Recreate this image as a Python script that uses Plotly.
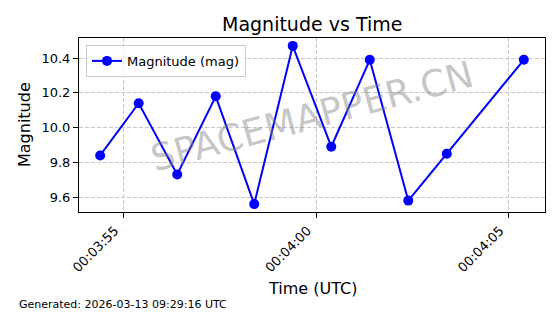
import plotly.graph_objects as go
from datetime import datetime, timedelta

base = datetime(2026, 3, 13, 0, 3, 54, 385000)
offsets_s = [0, 1, 2, 3, 4, 5, 6, 7, 8, 9, 11]
times = [base + timedelta(seconds=s) for s in offsets_s]
magnitudes = [9.84, 10.14, 9.73, 10.18, 9.56, 10.47, 9.89, 10.39, 9.58, 9.85, 10.39]
tick_times = [datetime(2026, 3, 13, 0, 3, 55), datetime(2026, 3, 13, 0, 4, 0), datetime(2026, 3, 13, 0, 4, 5)]
tick_labels = ["00:03:55", "00:04:00", "00:04:05"]
y_ticks = [9.6, 9.8, 10.0, 10.2, 10.4]

FONT = "DejaVu Sans"

fig = go.Figure()
fig.add_trace(go.Scatter(
    x=times, y=magnitudes, mode="lines+markers", name="Magnitude (mag)",
    line=dict(color="#0000ff", width=2),
    marker=dict(color="#0000ff", size=10),
))

x0 = base - timedelta(seconds=0.55)
x1 = base + timedelta(seconds=11.55)
fig.update_layout(
    width=560, height=314,
    margin=dict(l=79, r=15, t=38, b=102),
    paper_bgcolor="white", plot_bgcolor="white",
    font=dict(family=FONT, color="black", size=13),
    showlegend=True,
    legend=dict(x=0.015, y=0.96, xanchor="left", yanchor="top",
                bordercolor="#cccccc", borderwidth=1, bgcolor="rgba(255,255,255,0.8)",
                font=dict(size=13, family=FONT)),
    title=dict(text="Magnitude vs Time", x=0.5575, xanchor="center", y=0.922, yanchor="middle",
               font=dict(size=19, family=FONT)),
)
fig.update_xaxes(
    range=[x0, x1], tickvals=tick_times, ticktext=tick_labels, tickangle=-45,
    ticklabelshift=-9,
    showline=True, linecolor="black", linewidth=1, mirror=True,
    ticks="outside", ticklen=5, tickcolor="black",
    showgrid=True, gridcolor="#c8c8c8", griddash="4px,2px", gridwidth=1,
    zeroline=False, tickfont=dict(size=13),
)
fig.update_yaxes(
    range=[9.5145, 10.5155], tickvals=y_ticks, ticktext=[f"{v:.1f}" for v in y_ticks],
    showline=True, linecolor="black", linewidth=1, mirror=True,
    ticks="outside", ticklen=5, tickcolor="black",
    showgrid=True, gridcolor="#c8c8c8", griddash="4px,2px", gridwidth=1,
    zeroline=False, tickfont=dict(size=13),
)
fig.add_annotation(text="Magnitude", xref="paper", yref="paper", x=-0.118, y=0.5,
                   xanchor="center", yanchor="middle", textangle=-90, showarrow=False,
                   font=dict(size=16, family=FONT))
fig.add_annotation(text="Time (UTC)", xref="paper", yref="paper", x=0.5, y=-0.44,
                   xanchor="center", yanchor="middle", showarrow=False,
                   font=dict(size=16, family=FONT))
fig.add_annotation(text="Generated: 2026-03-13 09:29:16 UTC", xref="paper", yref="paper",
                   x=-0.133, y=-0.53, xanchor="left", yanchor="middle", showarrow=False,
                   font=dict(size=11, family=FONT))
fig.add_annotation(text="SPACEMAPPER.CN", xref="paper", yref="paper", x=0.5, y=0.55,
                   xanchor="center", yanchor="middle", showarrow=False, textangle=-15,
                   font=dict(size=37, family=FONT, color="rgba(128,128,128,0.45)"))

fig.write_html("out.html")
